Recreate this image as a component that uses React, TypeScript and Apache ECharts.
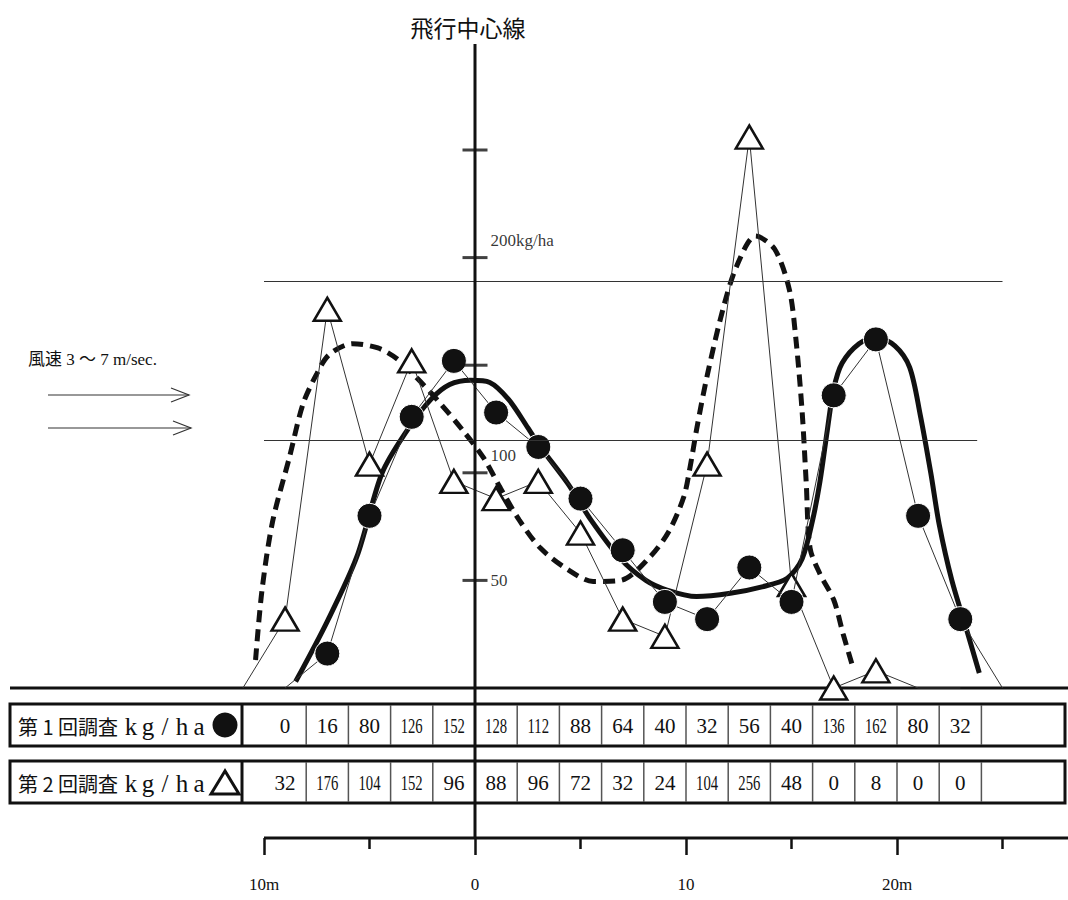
import React, { useEffect, useRef } from 'react';
import * as echarts from 'echarts';

// ---- data ----
const positions = [-9, -7, -5, -3, -1, 1, 3, 5, 7, 9, 11, 13, 15, 17, 19, 21, 23];
const survey1 = [0, 16, 80, 126, 152, 128, 112, 88, 64, 40, 32, 56, 40, 136, 162, 80, 32];
const survey2 = [32, 176, 104, 152, 96, 88, 96, 72, 32, 24, 104, 256, 48, 0, 8, 0, 0];
const survey1LineEnd = [25, 0];
const survey2LineStart = [-11, 0];
const hidden1 = [-9];
const hidden2 = [21, 23];

const curve1X = [-8.5, -7.0, -5.6, -4.4, -3.2, -2.1, -1.2, -0.2, 0.7, 1.6, 2.5, 3.1, 4.4, 5.5, 6.9, 8.1, 9.1, 10.5, 12.1, 13.6, 14.8, 15.5, 16.0, 16.35, 16.7, 17.0, 17.4, 18.2, 19.0, 19.9, 20.6, 21.1, 21.6, 22.0, 22.6, 23.3, 23.9];
const curve1Y = [3, 31, 61, 100, 120, 134, 141, 143, 142, 134, 121, 112, 95, 78, 60, 50, 45.5, 42.5, 44, 47, 51, 60, 78, 96, 120, 139, 151, 160, 163, 159, 149, 127, 100, 76, 50, 27, 7];

const curve2X = [-10.4, -10.1, -9.6, -8.8, -8.15, -7.5, -6.9, -5.8, -4.6, -3.7, -2.75, -1.8, -0.6, 0.4, 1.2, 2.1, 3.1, 4.4, 5.6, 6.9, 8.3, 9.2, 9.9, 10.2, 10.5, 11.0, 11.75, 12.4, 13.3, 14.2, 14.9, 15.2, 15.5, 15.7, 15.88, 16.35, 17.0, 17.45, 17.9];
const curve2Y = [13, 45, 77, 107, 132, 146, 155, 160, 158, 153, 144, 134, 120, 107, 93, 78, 65, 55, 49.5, 50, 61, 73, 89, 103, 120, 145, 176, 196, 210, 204, 185, 163, 129, 95, 65, 53, 41, 25, 10];

const yTicks = [50, 100, 150, 200, 250];
const yTickLabels = ['50', '100', '', '200kg/ha', ''];
const refLineValues = [189, 115];
const refLineEnds = [25, 23.8];
const xAxisStart = -10;
const xMajorTicks = [-10, 0, 10, 20];
const xMinorTicks = [-5, 5, 15, 25];
const xTickLabels = ['10m', '0', '10', '20m'];
const rowLabels = ['第 1 回調査', '第 2 回調査'];
const unitLabel = 'kg/ha';
const titleText = '飛行中心線';
const windText = '風速 3 ～ 7 m/sec.';

// ---- layout ----
const W = 1068;
const H = 900;
const PXM = 21.1;
const PXV = 2.152;
const ORIGIN_X = 475; // pixel of x = 0
const GRID_LEFT = 200;
const X_MIN = (GRID_LEFT - ORIGIN_X) / PXM;
const X_MAX = (W - ORIGIN_X) / PXM;
const BASE_Y = 688;
const AXIS_Y = 838;
const Y_MAX = 300;
const GRID_TOP = BASE_Y - Y_MAX * PXV;
const px = (m: number) => ORIGIN_X + m * PXM;
const X0 = px(0);

const INK = '#111';
const SERIF = '"Liberation Serif", "Noto Sans CJK JP", serif';
const CJK = '"Noto Sans CJK JP", sans-serif';

function buildTable(): any[] {
  const els: any[] = [];
  const rows = [
    { top: 704, values: survey1, icon: 'circle' },
    { top: 761, values: survey2, icon: 'triangle' },
  ];
  const h = 42;
  rows.forEach((r, ri) => {
    const cy = r.top + h / 2;
    els.push({ type: 'rect', shape: { x: 10, y: r.top, width: 1055, height: h }, style: { fill: 'none', stroke: INK, lineWidth: 3 }, z: 10 });
    els.push({ type: 'line', shape: { x1: 242, y1: r.top, x2: 242, y2: r.top + h }, style: { stroke: INK, lineWidth: 3 }, z: 10 });
    for (let m = -8; m <= 24; m += 2) {
      els.push({ type: 'line', shape: { x1: px(m), y1: r.top + 1, x2: px(m), y2: r.top + h - 1 }, style: { stroke: '#555', lineWidth: 1.5 }, z: 10 });
    }
    r.values.forEach((v, i) => {
      const t = String(v);
      els.push({
        type: 'text', x: px(positions[i]), y: cy + 1, scaleX: t.length >= 3 ? 0.7 : 1,
        style: { text: t, fontSize: 21, fontFamily: SERIF, fill: INK, align: 'center', verticalAlign: 'middle' }, z: 11,
      });
    });
    els.push({ type: 'text', x: 18, y: cy + 1, style: { text: rowLabels[ri], fontSize: 20, fontFamily: CJK, fill: INK, align: 'left', verticalAlign: 'middle' }, z: 11 });
    unitLabel.split('').forEach((c, ci) => {
      els.push({ type: 'text', x: 131 + ci * 17, y: cy + 1, style: { text: c, fontSize: 25, fontFamily: SERIF, fill: INK, align: 'center', verticalAlign: 'middle' }, z: 11 });
    });
    if (r.icon === 'circle') {
      els.push({ type: 'circle', shape: { cx: 225, cy, r: 12.5 }, style: { fill: INK }, z: 11 });
    } else {
      els.push({ type: 'polygon', shape: { points: [[225, r.top + 10], [211, r.top + 33], [239, r.top + 33]] }, style: { fill: '#fff', stroke: INK, lineWidth: 3 }, z: 11 });
    }
  });
  return els;
}

function buildOption(): any {
  const s1Data: any[] = positions.map((x, i) => (hidden1.includes(x) ? { value: [x, survey1[i]], symbol: 'none' } : { value: [x, survey1[i]] }));
  s1Data.push({ value: survey1LineEnd, symbol: 'none' });
  const s2Data: any[] = [{ value: survey2LineStart, symbol: 'none' }];
  positions.forEach((x, i) => s2Data.push(hidden2.includes(x) ? { value: [x, survey2[i]], symbol: 'none' } : { value: [x, survey2[i]] }));

  const graphic: any[] = [
    { type: 'text', x: 468, y: 27, style: { text: titleText, fontSize: 23, fontFamily: CJK, fill: INK, align: 'center', verticalAlign: 'middle' } },
    { type: 'line', shape: { x1: X0, y1: 44, x2: X0, y2: AXIS_Y }, style: { stroke: INK, lineWidth: 3 }, z: 12 },
    { type: 'line', shape: { x1: 10, y1: BASE_Y, x2: W, y2: BASE_Y }, style: { stroke: INK, lineWidth: 3 } },
    { type: 'line', shape: { x1: px(xAxisStart), y1: AXIS_Y, x2: W, y2: AXIS_Y }, style: { stroke: INK, lineWidth: 3 } },
    { type: 'text', x: 28, y: 359, style: { text: windText, fontSize: 17, fontFamily: SERIF, fill: INK, align: 'left', verticalAlign: 'middle' } },
    { type: 'line', shape: { x1: 48, y1: 395, x2: 189, y2: 395 }, style: { stroke: '#333', lineWidth: 1.2 } },
    { type: 'polyline', shape: { points: [[171, 388], [189, 395], [171, 402]] }, style: { stroke: '#333', lineWidth: 1.2, fill: 'none' } },
    { type: 'line', shape: { x1: 48, y1: 428, x2: 191, y2: 428 }, style: { stroke: '#333', lineWidth: 1.2 } },
    { type: 'polyline', shape: { points: [[173, 421], [191, 428], [173, 435]] }, style: { stroke: '#333', lineWidth: 1.2, fill: 'none' } },
    ...buildTable(),
  ];

  return {
    animation: false,
    backgroundColor: '#fff',
    grid: { left: GRID_LEFT, right: 0, top: GRID_TOP, bottom: H - BASE_Y, containLabel: false, outerBoundsMode: 'none' },
    xAxis: [
      {
        type: 'value', min: X_MIN, max: X_MAX, position: 'bottom', offset: AXIS_Y - BASE_Y,
        axisLine: { show: false, onZero: false },
        axisTick: { show: true, customValues: xMajorTicks, length: 17, lineStyle: { color: INK, width: 2.5 } },
        axisLabel: {
          show: true, customValues: xMajorTicks, margin: 38, fontFamily: SERIF, fontSize: 17, color: INK,
          formatter: (v: number) => { const k = xMajorTicks.indexOf(Math.round(v)); return k >= 0 ? xTickLabels[k] : ''; },
        },
        splitLine: { show: false },
      },
      {
        type: 'value', min: X_MIN, max: X_MAX, position: 'bottom', offset: AXIS_Y - BASE_Y,
        axisLine: { show: false, onZero: false },
        axisTick: { show: true, customValues: xMinorTicks, length: 11, lineStyle: { color: INK, width: 2.5 } },
        axisLabel: { show: false },
        splitLine: { show: false },
      },
    ],
    yAxis: { type: 'value', min: 0, max: Y_MAX, show: false },
    graphic,
    series: [
      {
        type: 'line', name: '第2回曲線', data: curve2X.map((x, i) => [x, curve2Y[i]]), smooth: 0.3, symbol: 'none', clip: false,
        lineStyle: { color: INK, width: 5, type: [12, 7] }, z: 2, silent: true,
      },
      {
        type: 'line', name: '第1回曲線', data: curve1X.map((x, i) => [x, curve1Y[i]]), smooth: 0.3, symbol: 'none', clip: false,
        lineStyle: { color: INK, width: 5 }, z: 2, silent: true,
      },
      {
        type: 'line', name: '第2回調査', data: s2Data, symbol: 'triangle', symbolSize: [27, 23], clip: false,
        itemStyle: { color: '#fff', borderColor: INK, borderWidth: 2.5 },
        lineStyle: { color: '#333', width: 1 }, z: 3, silent: true,
      },
      {
        type: 'line', name: '第1回調査', data: s1Data, symbol: 'circle', symbolSize: 25, clip: false,
        itemStyle: { color: INK, borderColor: '#fff', borderWidth: 1 },
        lineStyle: { color: '#333', width: 1 }, z: 4, silent: true,
        markLine: {
          silent: true, symbol: 'none', label: { show: false },
          lineStyle: { color: '#333', width: 1, type: 'solid' },
          data: refLineValues.map((v, i) => [{ coord: [xAxisStart, v] }, { coord: [refLineEnds[i], v] }]),
        },
      },
      {
        type: 'scatter', name: 'ticks', symbol: 'rect', symbolSize: [25, 3], silent: true, z: 5,
        itemStyle: { color: INK },
        label: { show: true, position: 'right', distance: 3, fontFamily: SERIF, fontSize: 17, color: '#000' },
        data: yTicks.map((v, i) => ({
          value: [0, v],
          label: { show: yTickLabels[i] !== '', formatter: yTickLabels[i], offset: [0, i === 0 ? 0 : -17] },
        })),
      },
    ],
  };
}

export default function App() {
  const ref = useRef<HTMLDivElement>(null);
  useEffect(() => {
    document.body.style.margin = '0';
    const chart = echarts.init(ref.current!, null, { renderer: 'svg' });
    chart.setOption(buildOption());
    return () => chart.dispose();
  }, []);
  return <div ref={ref} style={{ width: W, height: H, background: '#fff' }} />;
}
